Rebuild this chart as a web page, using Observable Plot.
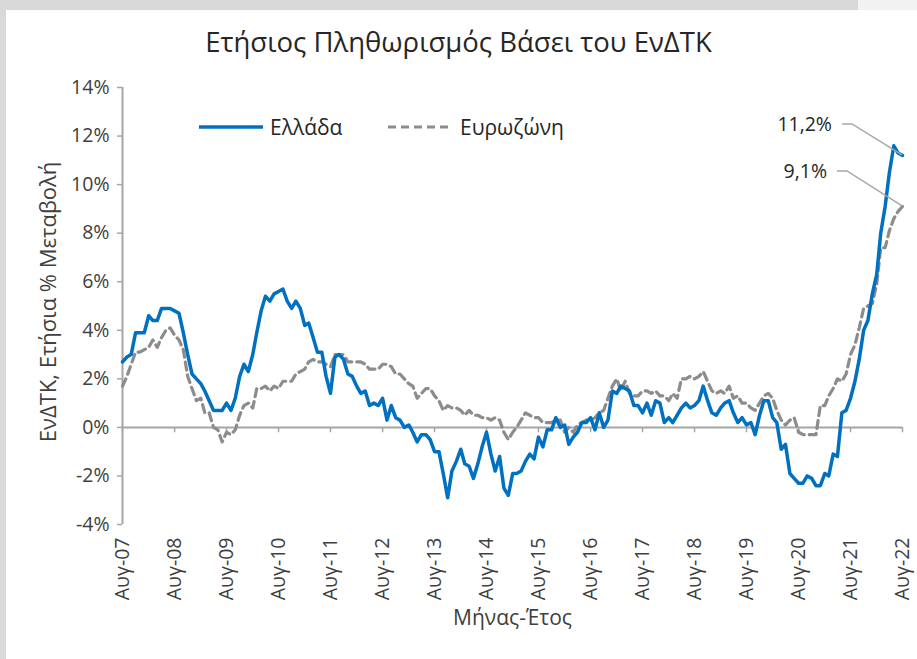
<!DOCTYPE html>
<html>
<head>
<meta charset="utf-8">
<script src="https://cdn.jsdelivr.net/npm/d3@7"></script>
<script src="https://cdn.jsdelivr.net/npm/@observablehq/plot@0.6"></script>
<style>
  html, body { margin: 0; padding: 0; background: #ffffff; }
  #page { position: relative; width: 917px; height: 659px; background: #d9d9d9; overflow: hidden; font-family: "Open Sans", sans-serif; color: #404040; }
  #topright { position: absolute; left: 858px; top: 0; width: 59px; height: 10px; background: #f2f2f2; }
  #card { position: absolute; left: 6px; top: 10px; right: 0; bottom: 0; background: #ffffff; }
  #title { position: absolute; left: 0; top: 26px; width: 917px; text-align: center; font-size: 27.5px; line-height: 32px; color: #262626; }
  #chart { position: absolute; left: 0; top: 68px; }
  .leg { position: absolute; font-size: 21px; line-height: 28px; color: #262626; }
  .legsw { position: absolute; }
  #chart g[aria-label="y-axis tick"] path { stroke: #a6a6a6; stroke-width: 1.5; }
  #chart g[aria-label="y-axis"] g.tick line { stroke: #a6a6a6; stroke-width: 1.5; }
</style>
</head>
<body>
<div id="page">
  <div id="topright"></div>
  <div id="card"></div>
  <div id="title">Ετήσιος Πληθωρισμός Βάσει του ΕνΔΤΚ</div>
  <div id="chart"></div>
  <svg class="legsw" style="left:199px;top:124px" width="64" height="6"><line x1="0" y1="3" x2="64" y2="3" stroke="#0070c0" stroke-width="3.5"/></svg>
  <div class="leg" style="left:270px;top:113px">Ελλάδα</div>
  <svg class="legsw" style="left:388px;top:124px" width="64" height="6"><line x1="0" y1="3" x2="64" y2="3" stroke="#8c8c8c" stroke-width="3.2" stroke-dasharray="8,5"/></svg>
  <div class="leg" style="left:460px;top:113px">Ευρωζώνη</div>
</div>
<script>
// Monthly series, Aug 2007 .. Aug 2022 (annual % change of HICP)
const startYear = 2007, startMonth = 7; // August (0-based)

const greece = [
  // 2007 Aug-Dec
  2.7, 2.9, 3.0, 3.9, 3.9,
  // 2008
  3.9, 4.6, 4.4, 4.4, 4.9, 4.9, 4.9, 4.8, 4.7, 3.9, 3.0, 2.2,
  // 2009
  2.0, 1.8, 1.5, 1.1, 0.7, 0.7, 0.7, 1.0, 0.7, 1.2, 2.1, 2.6,
  // 2010
  2.3, 3.0, 3.9, 4.8, 5.4, 5.2, 5.5, 5.6, 5.7, 5.2, 4.9, 5.2,
  // 2011
  4.9, 4.2, 4.3, 3.7, 3.1, 3.1, 2.1, 1.4, 2.9, 3.0, 2.8, 2.2,
  // 2012
  2.1, 1.7, 1.4, 1.5, 0.9, 1.0, 0.9, 1.2, 0.3, 0.9, 0.4, 0.3,
  // 2013
  0.0, 0.1, -0.2, -0.6, -0.3, -0.3, -0.5, -1.0, -1.0, -1.9, -2.9, -1.8,
  // 2014
  -1.4, -0.9, -1.5, -1.6, -2.1, -1.5, -0.8, -0.2, -1.1, -1.8, -1.2, -2.5,
  // 2015
  -2.8, -1.9, -1.9, -1.8, -1.4, -1.1, -1.3, -0.4, -0.8, -0.1, -0.1, 0.4,
  // 2016
  0.0, 0.1, -0.7, -0.4, -0.2, 0.2, 0.2, 0.4, -0.1, 0.6, 0.0, 0.3,
  // 2017
  1.5, 1.4, 1.7, 1.6, 1.5, 0.9, 0.9, 0.6, 1.0, 0.5, 1.1, 1.0,
  // 2018
  0.2, 0.4, 0.2, 0.5, 0.8, 1.0, 0.8, 0.9, 1.1, 1.7, 1.1, 0.6,
  // 2019
  0.5, 0.8, 1.0, 1.1, 0.6, 0.2, 0.4, 0.1, 0.2, -0.3, 0.5, 1.1,
  // 2020
  1.1, 0.4, 0.2, -0.9, -0.7, -1.9, -2.1, -2.3, -2.3, -2.0, -2.1, -2.4,
  // 2021
  -2.4, -1.9, -2.0, -1.1, -1.2, 0.6, 0.7, 1.2, 1.9, 2.8, 4.0, 4.4,
  // 2022 Jan-Aug
  5.5, 6.3, 8.0, 9.1, 10.5, 11.6, 11.3, 11.2
];

const eurozone = [
  // 2007 Aug-Dec
  1.7, 2.1, 2.6, 3.1, 3.1,
  // 2008
  3.2, 3.3, 3.6, 3.3, 3.7, 4.0, 4.1, 3.8, 3.6, 3.2, 2.1, 1.6,
  // 2009
  1.1, 1.2, 0.6, 0.6, 0.0, -0.1, -0.6, -0.2, -0.3, -0.1, 0.5, 0.9,
  // 2010
  1.0, 0.8, 1.6, 1.6, 1.7, 1.5, 1.7, 1.6, 1.9, 1.9, 1.9, 2.2,
  // 2011
  2.3, 2.4, 2.7, 2.8, 2.7, 2.7, 2.6, 2.5, 3.0, 3.0, 3.0, 2.7,
  // 2012
  2.7, 2.7, 2.7, 2.6, 2.4, 2.4, 2.4, 2.6, 2.6, 2.5, 2.2, 2.2,
  // 2013
  2.0, 1.8, 1.7, 1.2, 1.4, 1.6, 1.6, 1.3, 1.1, 0.7, 0.9, 0.8,
  // 2014
  0.8, 0.7, 0.5, 0.7, 0.5, 0.5, 0.4, 0.4, 0.3, 0.4, 0.3, -0.2,
  // 2015
  -0.5, -0.2, 0.0, 0.3, 0.6, 0.5, 0.4, 0.4, 0.2, 0.2, 0.2, 0.3,
  // 2016
  0.3, -0.2, 0.0, -0.2, 0.1, 0.2, 0.3, 0.3, 0.4, 0.6, 0.7, 1.2,
  // 2017
  1.7, 2.0, 1.5, 1.9, 1.4, 1.3, 1.3, 1.5, 1.5, 1.4, 1.5, 1.3,
  // 2018
  1.3, 1.1, 1.4, 1.2, 2.0, 2.0, 2.1, 2.0, 2.1, 2.3, 1.9, 1.5,
  // 2019
  1.4, 1.5, 1.4, 1.7, 1.2, 1.3, 1.0, 1.0, 0.8, 0.7, 1.0, 1.3,
  // 2020
  1.4, 1.2, 0.7, 0.3, 0.1, 0.3, 0.4, -0.2, -0.3, -0.3, -0.3, -0.3,
  // 2021
  0.9, 0.9, 1.3, 1.6, 2.0, 1.9, 2.2, 3.0, 3.4, 4.1, 4.9, 5.0,
  // 2022 Jan-Aug
  5.1, 5.9, 7.4, 7.4, 8.1, 8.6, 8.9, 9.1
];

const xTickLabels = ["Αυγ-07","Αυγ-08","Αυγ-09","Αυγ-10","Αυγ-11","Αυγ-12","Αυγ-13","Αυγ-14",
                     "Αυγ-15","Αυγ-16","Αυγ-17","Αυγ-18","Αυγ-19","Αυγ-20","Αυγ-21","Αυγ-22"];
const yTicks = [-4, -2, 0, 2, 4, 6, 8, 10, 12, 14];
const seriesNames = ["Ελλάδα", "Ευρωζώνη"];
const xTitle = "Μήνας-Έτος";
const yTitle = "ΕνΔΤΚ, Ετήσια % Μεταβολή";

const monthDate = i => new Date(Date.UTC(startYear, startMonth + i, 1));
const grRows = greece.map((v, i) => ({date: monthDate(i), value: v, series: seriesNames[0]}));
const ezRows = eurozone.map((v, i) => ({date: monthDate(i), value: v, series: seriesNames[1]}));
const tickDates = xTickLabels.map((_, k) => monthDate(12 * k));
const labelOf = new Map(tickDates.map((d, k) => [+d, xTickLabels[k]]));

const grey = "#a6a6a6";

const plot = Plot.plot({
  width: 917,
  height: 591,
  marginLeft: 122,
  marginRight: 15,
  marginTop: 19,
  marginBottom: 135,
  style: {fontFamily: "Open Sans, sans-serif", fontSize: "19.5px", color: "#404040", background: "transparent", overflow: "visible"},
  x: {
    type: "utc",
    domain: [tickDates[0], tickDates[tickDates.length - 1]],
    ticks: tickDates,
    tickFormat: d => labelOf.get(+d) ?? "",
    tickRotate: -90,
    tickSize: 0,
    tickPadding: 13,
    label: null
  },
  y: {
    domain: [-4, 14],
    ticks: yTicks,
    tickFormat: d => d + "%",
    tickSize: 5,
    tickPadding: 8,
    label: null
  },
  marks: [
    Plot.ruleX([tickDates[0]], {stroke: grey, strokeWidth: 2}),
    Plot.ruleY([0], {stroke: grey, strokeWidth: 2}),
    Plot.ruleX(tickDates, {x: d => d, y1: 0, y2: -0.22, stroke: grey, strokeWidth: 1.5}),
    Plot.line(ezRows, {x: "date", y: "value", stroke: "#8c8c8c", strokeWidth: 3.2, strokeDasharray: "8,5"}),
    Plot.line(grRows, {x: "date", y: "value", stroke: "#0070c0", strokeWidth: 3.5}),
    Plot.text([xTitle], {frameAnchor: "bottom", text: d => d, dy: 100, fontSize: 21, fill: "#404040"}),
    Plot.text([yTitle], {frameAnchor: "left", text: d => d, textAnchor: "middle", dx: -74, dy: -4, rotate: -90, fontSize: 22, fill: "#404040"})
  ]
});

document.getElementById("chart").appendChild(plot);

// End-value annotations with leader lines, positioned from the plot's own scales
const sx = plot.scale("x"), sy = plot.scale("y");
const svg = d3.select(plot);
const fmt = v => v.toFixed(1).replace(".", ",") + "%";
const ann = [
  {row: grRows[grRows.length - 1], up: 31, gap: 50, seg: 10},
  {row: ezRows[ezRows.length - 1], up: 35, gap: 55, seg: 10}
];
for (const a of ann) {
  const px = sx.apply(a.row.date), py = sy.apply(a.row.value);
  const ky = py - a.up;
  svg.append("path")
    .attr("d", `M${px - a.gap - a.seg},${ky}L${px - a.gap},${ky}L${px},${py}`)
    .attr("fill", "none").attr("stroke", grey).attr("stroke-width", 1.5);
  svg.append("text")
    .attr("x", px - a.gap - a.seg - 10).attr("y", ky)
    .attr("dy", "0.35em").attr("text-anchor", "end")
    .attr("font-size", 19.5).attr("fill", "#262626")
    .text(fmt(a.row.value));
}
</script>
</body>
</html>
